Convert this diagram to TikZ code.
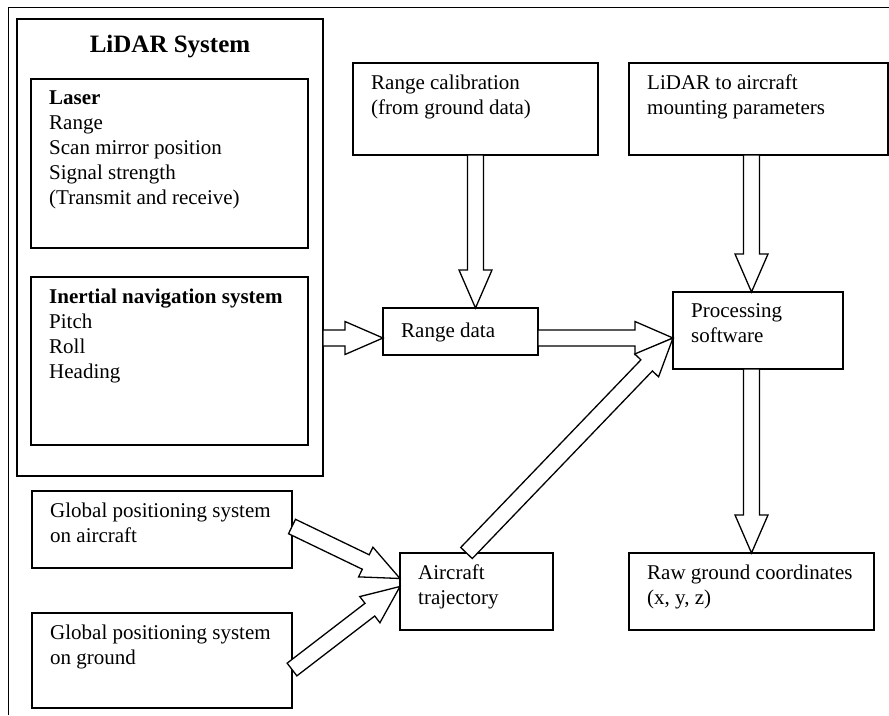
\documentclass[tikz,border=0pt]{standalone}
\usepackage{fontspec}
\setmainfont{Liberation Serif}
\usetikzlibrary{calc}

\begin{document}
\begin{tikzpicture}[x=1pt,y=-1pt,font=\fontsize{21}{25}\selectfont,
  box/.style={draw,line width=1.8pt,anchor=north west,inner sep=0pt,outer sep=0pt},
  txt/.style={anchor=north west,align=left,inner sep=0pt,execute at begin node=\strut},
  fat/.style={draw,line width=1.3pt,line join=miter,fill=white}]
\useasboundingbox (0,0) rectangle (889,715);
\draw[line width=1pt] (8,715)--(8,7)--(889,7);
\node[box,line width=2.2pt,minimum width=306,minimum height=457] (sys) at (17,19) {};
\node[font=\fontsize{25}{30}\selectfont\bfseries,anchor=base] (title) at (170,52) {LiDAR System};
\node[box,minimum width=277,minimum height=169] (laser) at (31,79) {};
\node[box,minimum width=277,minimum height=168] (ins) at (31,277) {};
\node[box,minimum width=245,minimum height=92] (cal) at (353,63) {};
\node[box,minimum width=259,minimum height=92] (mount) at (629,63) {};
\node[box,minimum width=155,minimum height=47] (rng) at (383,308) {};
\node[box,minimum width=170,minimum height=77] (proc) at (673,292) {};
\node[box,minimum width=153,minimum height=77] (traj) at (400,553) {};
\node[box,minimum width=260,minimum height=77] (gpsa) at (32,491) {};
\node[box,minimum width=260,minimum height=95] (gpsg) at (32,613) {};
\node[box,minimum width=245,minimum height=77] (raw) at (629,553) {};
\foreach \b/\t in {laser/{\textbf{Laser}\\Range\\Scan mirror position\\Signal strength\\(Transmit and receive)},
  ins/{\textbf{Inertial navigation system}\\Pitch\\Roll\\Heading},
  cal/{Range calibration\\(from ground data)},
  mount/{LiDAR to aircraft\\mounting parameters},
  rng/{Range data},
  proc/{Processing\\software},
  traj/{Aircraft\\trajectory},
  gpsa/{Global positioning system\\on aircraft},
  gpsg/{Global positioning system\\on ground},
  raw/{Raw ground coordinates\\(x, y, z)}}
  \node[txt] (\b-t) at ([shift={(18,11.5)}]\b.north west) {\t};
\coordinate (hub) at (673,338);
\coordinate (trajout) at ([xshift=-10pt]traj.north);
\coordinate (gpsaout) at ([yshift=3pt]gpsa.east);
\coordinate (gpsgout) at ([yshift=-9pt]gpsg.east);
\coordinate (trajin1) at ([yshift=13pt]traj.west);
\coordinate (trajin2) at ([yshift=5pt]traj.west);
\foreach \a/\b in {cal.south/cal.south|-rng.north, mount.south-|raw.north/proc.north-|raw.north,
  proc.south-|raw.north/raw.north, sys.east|-hub/rng.west|-hub, rng.east|-hub/hub,
  trajout/hub, gpsaout/trajin1, gpsgout/trajin2}
  \draw[fat] let \p1=(\a),\p2=(\b),\n1={atan2(\y2-\y1,\x2-\x1)},\n2={veclen(\x2-\x1,\y2-\y1)} in
    [shift={(\p1)},rotate=\n1] (0,-8)--(\n2-38,-8)--(\n2-38,-16.5)--(\n2,0)--(\n2-38,16.5)--(\n2-38,8)--(0,8)--cycle;
\end{tikzpicture}
\end{document}
